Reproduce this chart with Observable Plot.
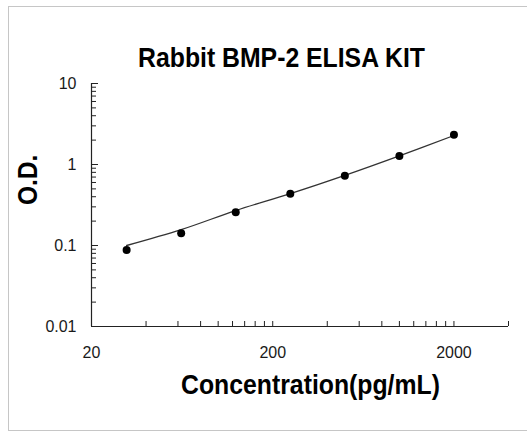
<!DOCTYPE html>
<html><head><meta charset="utf-8">
<script src="https://cdn.jsdelivr.net/npm/d3@7"></script>
<script src="https://cdn.jsdelivr.net/npm/@observablehq/plot@0.6"></script>
<style>
body{margin:0;background:#fff;}
#wrap{position:relative;width:527px;height:434px;overflow:hidden;}
#border{position:absolute;left:8px;top:6px;width:600px;height:425px;border:1px solid #c6c6c6;box-sizing:border-box;}
#chart{position:absolute;left:0;top:0;}
</style></head><body>
<div id="wrap"><div id="border"></div><div id="chart"></div></div>
<script>
// ---- data ----
const title = "Rabbit BMP-2 ELISA KIT";
const xLabel = "Concentration(pg/mL)";
const yLabel = "O.D.";
const concentrations = [31.25, 62.5, 125, 250, 500, 1000, 2000];
const odValues = [0.088, 0.142, 0.258, 0.435, 0.725, 1.27, 2.33];
const fitOD = [0.100, 0.157, 0.270, 0.437, 0.735, 1.28, 2.28];
const xTickLabels = [20, 200, 2000];
const xMinorTicks = [40, 60, 80, 100, 120, 140, 160, 180, 200, 400, 600, 800, 1000, 1200, 1400, 1600, 1800, 2000, 4000];
const yTickLabels = [0.01, 0.1, 1, 10];
const yMinorTicks = [0.02, 0.03, 0.04, 0.05, 0.06, 0.07, 0.08, 0.09, 0.2, 0.3, 0.4, 0.5, 0.6, 0.7, 0.8, 0.9, 2, 3, 4, 5, 6, 7, 8, 9];

const points = concentrations.map((c, i) => ({c, od: odValues[i]}));
const fit = concentrations.map((c, i) => ({c, od: fitOD[i]}));

const W = 527, H = 434, mL = 91, mR = 19, mT = 83, mB = 108;
const plotW = W - mL - mR, plotH = H - mT - mB;
const font = "'Liberation Sans', Arial, sans-serif";

const chart = Plot.plot({
  width: W, height: H,
  marginLeft: mL, marginRight: mR, marginTop: mT, marginBottom: mB,
  style: {fontFamily: font, background: "transparent", overflow: "visible", color: "#1a1a1a"},
  x: {type: "log", domain: [20, 4000]},
  y: {type: "log", domain: [0.01, 10]},
  marks: [
    Plot.tickY(yMinorTicks, {y: d => d, insetRight: plotW - 5, stroke: "#222"}),
    Plot.tickY(yTickLabels, {y: d => d, insetRight: plotW - 7, stroke: "#222"}),
    Plot.tickX(xMinorTicks, {x: d => d, insetTop: plotH - 5, stroke: "#222"}),
    Plot.ruleX([20], {stroke: "#222", strokeWidth: 1.2}),
    Plot.ruleY([0.01], {stroke: "#222", strokeWidth: 1.2}),
    Plot.axisY({ticks: yTickLabels, tickSize: 0, tickPadding: 15, tickFormat: d => String(d), fontSize: 16, label: null, fill: "#1a1a1a"}),
    Plot.axisX({ticks: xTickLabels, tickSize: 0, tickPadding: 19, tickFormat: d => String(d), fontSize: 16, label: null, fill: "#1a1a1a"}),
    Plot.line(fit, {x: "c", y: "od", curve: "catmull-rom", stroke: "#333", strokeWidth: 1.3}),
    Plot.dot(points, {x: "c", y: "od", r: 4, fill: "#000", stroke: null}),
    Plot.text([title], {frameAnchor: "top", lineAnchor: "middle", dx: -18.5, dy: -26, fontSize: 24.8, fontWeight: "bold", fill: "#000", fontFamily: font}),
    Plot.text([xLabel], {frameAnchor: "bottom", lineAnchor: "middle", dx: 10.5, dy: 58, fontSize: 24.8, fontWeight: "bold", fill: "#000", fontFamily: font}),
    Plot.text([yLabel], {frameAnchor: "left", lineAnchor: "middle", dx: -63, dy: 0, rotate: -90, fontSize: 24.5, fontWeight: "bold", fill: "#000", fontFamily: font})
  ]
});
document.getElementById("chart").appendChild(chart);

// slightly taller glyphs, as in the reference rendering
function stretch(el, sx, sy) {
  const t = el.getAttribute("transform");
  if (t && /translate/.test(t)) el.setAttribute("transform", t + ` scale(${sx},${sy})`);
  else { el.style.transformBox = "fill-box"; el.style.transformOrigin = "center"; el.style.transform = `scale(${sx},${sy})`; }
}
chart.querySelectorAll("text").forEach(el => {
  const s = el.textContent;
  if (s === title || s === xLabel || s === yLabel) stretch(el, 1, 1.14);
  else stretch(el, 1, 1.07);
});
</script>
</body></html>
